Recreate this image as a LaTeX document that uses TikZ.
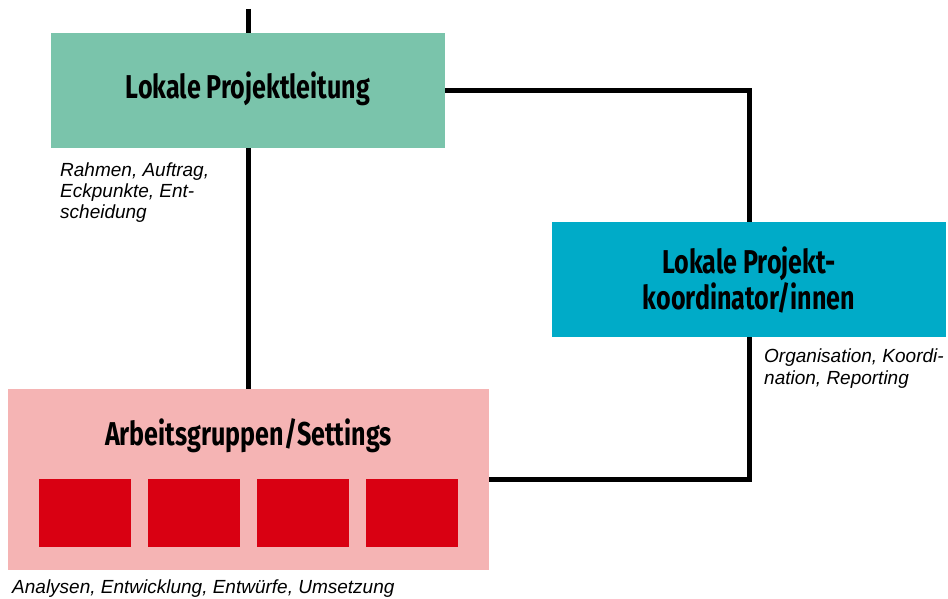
\documentclass[tikz,border=0pt]{standalone}
\usepackage{fontspec}
\setmainfont{Liberation Sans}
\newfontfamily\titlefont[FakeStretch=0.76]{Fira Sans}
\usetikzlibrary{backgrounds}
\definecolor{lplgreen}{HTML}{7AC4AB}
\definecolor{korcyan}{HTML}{00ABC8}
\definecolor{agpink}{HTML}{F5B4B4}
\definecolor{agred}{HTML}{D90012}
\begin{document}
\begin{tikzpicture}[x=1pt,y=-1pt,
  conn/.style={line width=5pt, draw=black, line join=miter},
  boxnode/.style={inner sep=0pt, outer sep=0pt, draw=none},
  titletext/.style={font=\titlefont\bfseries\fontsize{33}{34}\selectfont, inner sep=0pt, anchor=base},
  notetext/.style={font=\itshape\fontsize{19}{21}\selectfont, inner sep=0pt, anchor=base west},
  cell/.style={boxnode, fill=agred, minimum width=92pt, minimum height=68pt}]
\useasboundingbox (0,0) rectangle (948,599);
% boxes
\node[boxnode, fill=lplgreen, minimum width=394pt, minimum height=115pt] (lpl) at (248,90.5) {};
\node[boxnode, fill=korcyan, minimum width=394pt, minimum height=115pt] (kor) at (749,279.5) {};
\node[boxnode, fill=agpink, minimum width=481pt, minimum height=181pt] (ag) at (248.5,479.5) {};
\node[cell] (c1) at (85,513) {};
\node[cell] (c2) at (194,513) {};
\node[cell] (c3) at (303,513) {};
\node[cell] (c4) at (412,513) {};
% titles
\node[titletext] (lplt) at (248,99) {Lokale Projektleitung};
\node[titletext] (kort) at (749,273) {\begin{tabular}[t]{@{}c@{}}Lokale Projekt-\\[-1pt]koordinator/innen\end{tabular}};
\node[titletext] (agt) at (248.5,445) {Arbeitsgruppen/Settings};
% notes
\node[notetext] (lpln) at (60,176) {\begin{tabular}[t]{@{}l@{}}Rahmen, Auftrag,\\Eckpunkte, Ent-\\scheidung\end{tabular}};
\node[notetext, font=\itshape\fontsize{19}{22}\selectfont] (korn) at (764,362) {\begin{tabular}[t]{@{}l@{}}Organisation, Koordi-\\nation, Reporting\end{tabular}};
\node[notetext] (agn) at (12,593) {Analysen, Entwicklung, Entwürfe, Umsetzung};
% connectors
\coordinate (top) at (248,9);
\begin{scope}[on background layer]
\draw[conn] (top) -- (top |- ag.north);
\draw[conn] (lpl.east) -| (kor.north);
\draw[conn] (kor.south) |- (ag.east);
\end{scope}
\end{tikzpicture}
\end{document}
